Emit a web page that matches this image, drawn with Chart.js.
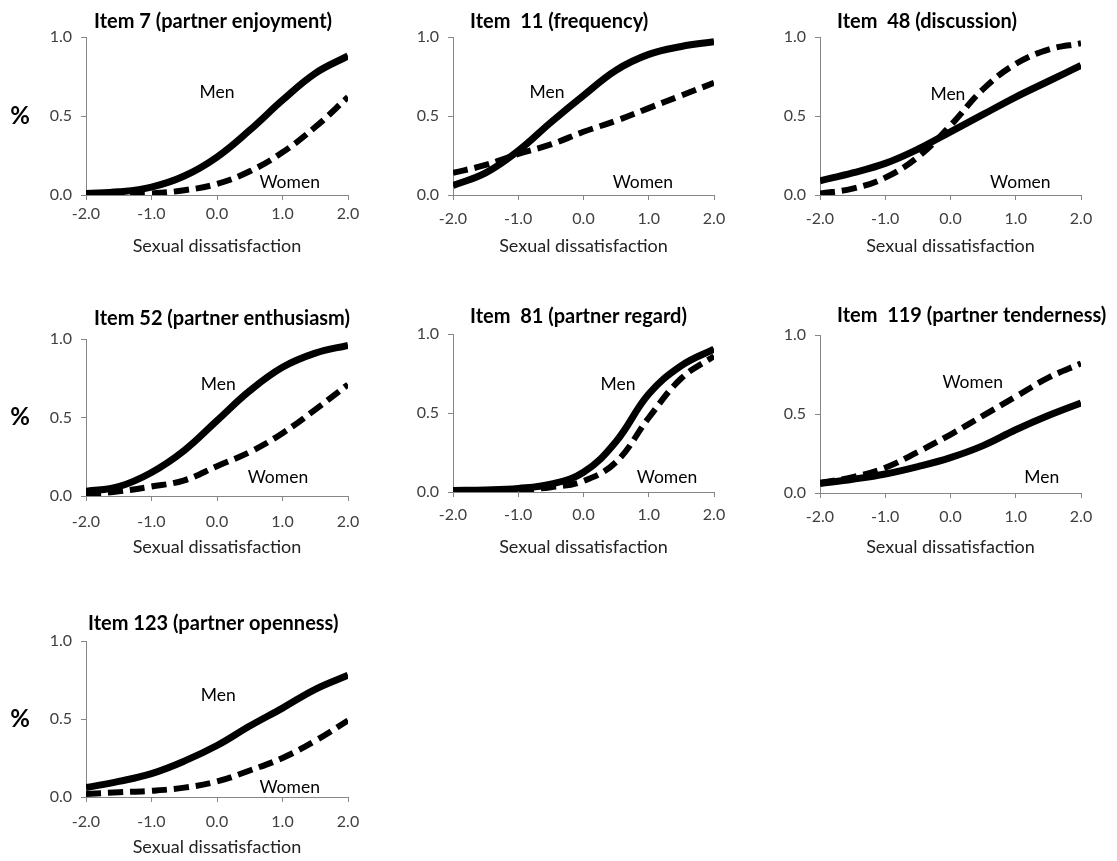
<!DOCTYPE html>
<html>
<head>
<meta charset="utf-8">
<script src="https://cdn.jsdelivr.net/npm/chart.js@4.4.0/dist/chart.umd.min.js"></script>
<style>
  body { margin: 0; background: #fff; width: 1117px; height: 861px; overflow: hidden; position: relative; }
  canvas { position: absolute; }
</style>
</head>
<body>
<script>
/* data */
const xValues = [-2.0, -1.5, -1.0, -0.5, 0.0, 0.5, 1.0, 1.5, 2.0];
const xTicks = [-2.0, -1.0, 0.0, 1.0, 2.0];
const yTicks = [0.0, 0.5, 1.0];
const xAxisTitle = 'Sexual dissatisfaction';

const titles = [
    'Item 7 (partner enjoyment)',
    'Item  11 (frequency)',
    'Item  48 (discussion)',
    'Item 52 (partner enthusiasm)',
    'Item  81 (partner regard)',
    'Item  119 (partner tenderness)',
    'Item 123 (partner openness)'
];

const menItem7 = [0.01, 0.02, 0.05, 0.12, 0.24, 0.41, 0.60, 0.77, 0.88];
const womenItem7 = [0.00, 0.005, 0.01, 0.03, 0.07, 0.15, 0.27, 0.43, 0.62];

const menItem11 = [0.06, 0.14, 0.28, 0.46, 0.63, 0.79, 0.89, 0.94, 0.97];
const womenItem11 = [0.14, 0.19, 0.26, 0.32, 0.40, 0.47, 0.55, 0.63, 0.71];

const menItem48 = [0.09, 0.14, 0.20, 0.29, 0.40, 0.51, 0.62, 0.72, 0.82];
const womenItem48 = [0.01, 0.04, 0.11, 0.24, 0.44, 0.67, 0.83, 0.92, 0.96];

const menItem52 = [0.03, 0.06, 0.15, 0.29, 0.48, 0.67, 0.82, 0.91, 0.96];
const womenItem52 = [0.01, 0.03, 0.06, 0.10, 0.19, 0.28, 0.40, 0.55, 0.71];

const menItem81 = [0.01, 0.013, 0.023, 0.05, 0.125, 0.32, 0.62, 0.80, 0.905];
const womenItem81 = [0.005, 0.01, 0.015, 0.03, 0.07, 0.19, 0.47, 0.72, 0.86];

const menItem119 = [0.06, 0.087, 0.12, 0.167, 0.224, 0.30, 0.40, 0.49, 0.57];
const womenItem119 = [0.065, 0.10, 0.16, 0.26, 0.37, 0.49, 0.61, 0.73, 0.82];

const menItem123 = [0.06, 0.10, 0.15, 0.23, 0.33, 0.455, 0.57, 0.69, 0.78];
const womenItem123 = [0.02, 0.03, 0.04, 0.06, 0.10, 0.17, 0.25, 0.36, 0.49];

/* layout of the panels (page pixels) */
const panels = [
    { title: titles[0], men: menItem7, women: womenItem7, area: [86, 37, 348, 195], titleAt: [94, 22], axisTitleY: 247, tickGap: 19, percent: true, menAt: [0.0, 0.65], womenAt: [1.11, 0.08] },
    { title: titles[1], men: menItem11, women: womenItem11, area: [453, 37, 714, 195], titleAt: [470, 22], axisTitleY: 247, tickGap: 24, percent: false, menAt: [-0.56, 0.65], womenAt: [0.91, 0.08] },
    { title: titles[2], men: menItem48, women: womenItem48, area: [820, 37, 1081, 195], titleAt: [837, 22], axisTitleY: 247, tickGap: 24, percent: false, menAt: [-0.04, 0.64], womenAt: [1.07, 0.08] },
    { title: titles[3], men: menItem52, women: womenItem52, area: [86, 339, 348, 496], titleAt: [94, 319], axisTitleY: 548, tickGap: 26, percent: true, menAt: [0.02, 0.71], womenAt: [0.93, 0.12] },
    { title: titles[4], men: menItem81, women: womenItem81, area: [453, 334, 714, 492], titleAt: [470, 317], axisTitleY: 548, tickGap: 23, percent: false, menAt: [0.53, 0.68], womenAt: [1.28, 0.095] },
    { title: titles[5], men: menItem119, women: womenItem119, area: [820, 335, 1081, 493], titleAt: [837, 316], axisTitleY: 548, tickGap: 24, percent: false, menAt: [1.40, 0.10], womenAt: [0.34, 0.70] },
    { title: titles[6], men: menItem123, women: womenItem123, area: [86, 641, 348, 797], titleAt: [88, 624], axisTitleY: 848, tickGap: 25, percent: true, menAt: [0.02, 0.65], womenAt: [1.11, 0.06] }
];

const FONT = 'Lato, "Open Sans", sans-serif';
const AXIS_GREY = '#868686';

/* text drawn on the panels: title, % and curve names */
const panelText = {
    id: 'panelText',
    afterDraw(chart, args, opts) {
        const ctx = chart.ctx;
        const xs = chart.scales.x;
        const ys = chart.scales.y;
        ctx.save();
        ctx.fillStyle = '#000';
        ctx.textBaseline = 'middle';

        ctx.font = 'bold 20px ' + FONT;
        ctx.textAlign = 'left';
        ctx.fillText(opts.title, opts.titleX, opts.titleY);

        if (opts.percent) {
            ctx.font = 'bold 24px ' + FONT;
            ctx.textAlign = 'center';
            ctx.fillText('%', opts.percentX, ys.getPixelForValue(0.5));
        }

        ctx.font = '17.5px ' + FONT;
        ctx.textAlign = 'center';
        ctx.fillText('Men', xs.getPixelForValue(opts.menAt[0]), ys.getPixelForValue(opts.menAt[1]));
        ctx.fillText('Women', xs.getPixelForValue(opts.womenAt[0]), ys.getPixelForValue(opts.womenAt[1]));
        ctx.restore();
    }
};

function makePanel(p) {
    const [L, T, R, B] = p.area;
    const left = p.percent ? 0 : L - 50;
    const top = T - 40;
    const axisW = L - left;
    const axisH = p.axisTitleY - B + 10;
    const width = R - left + 30;
    const height = B - top + axisH;

    const canvas = document.createElement('canvas');
    canvas.width = width;
    canvas.height = height;
    canvas.style.left = left + 'px';
    canvas.style.top = top + 'px';
    canvas.style.width = width + 'px';
    canvas.style.height = height + 'px';
    document.body.appendChild(canvas);

    new Chart(canvas.getContext('2d'), {
        type: 'line',
        data: {
            datasets: [
                {
                    label: 'Women',
                    data: xValues.map((x, i) => ({ x: x, y: p.women[i] })),
                    borderColor: '#000',
                    borderWidth: 6,
                    borderDash: [15, 7],
                    borderCapStyle: 'butt',
                    tension: 0.4,
                    pointRadius: 0
                },
                {
                    label: 'Men',
                    data: xValues.map((x, i) => ({ x: x, y: p.men[i] })),
                    borderColor: '#000',
                    borderWidth: 7,
                    tension: 0.4,
                    pointRadius: 0
                }
            ]
        },
        options: {
            responsive: false,
            animation: false,
            devicePixelRatio: 1,
            layout: { padding: { top: 40, right: 30, left: 0, bottom: 0 } },
            plugins: {
                legend: { display: false },
                tooltip: { enabled: false },
                panelText: {
                    title: p.title,
                    titleX: p.titleAt[0] - left,
                    titleY: p.titleAt[1] - top,
                    percent: p.percent,
                    percentX: 20,
                    menAt: p.menAt,
                    womenAt: p.womenAt
                }
            },
            scales: {
                x: {
                    type: 'linear',
                    min: -2,
                    max: 2,
                    afterBuildTicks: scale => { scale.ticks = xTicks.map(v => ({ value: v })); },
                    afterFit: scale => { scale.height = axisH; },
                    grid: { drawOnChartArea: false, drawTicks: true, tickLength: 5, color: AXIS_GREY },
                    border: { display: true, color: AXIS_GREY, width: 1 },
                    ticks: {
                        color: '#404040',
                        font: { family: FONT, size: 16 },
                        padding: p.tickGap - 15,
                        maxRotation: 0,
                        callback: v => v.toFixed(1)
                    },
                    title: {
                        display: true,
                        text: xAxisTitle,
                        color: '#222',
                        font: { family: FONT, size: 18 },
                        padding: 0
                    }
                },
                y: {
                    min: 0,
                    max: 1,
                    afterBuildTicks: scale => { scale.ticks = yTicks.map(v => ({ value: v })); },
                    afterFit: scale => { scale.width = axisW; },
                    grid: { drawOnChartArea: false, drawTicks: true, tickLength: 5, color: AXIS_GREY },
                    border: { display: true, color: AXIS_GREY, width: 1 },
                    ticks: {
                        color: '#404040',
                        font: { family: FONT, size: 16 },
                        padding: 9,
                        callback: v => v.toFixed(1)
                    }
                }
            }
        },
        plugins: [panelText]
    });
}

panels.forEach(makePanel);
</script>
</body>
</html>
